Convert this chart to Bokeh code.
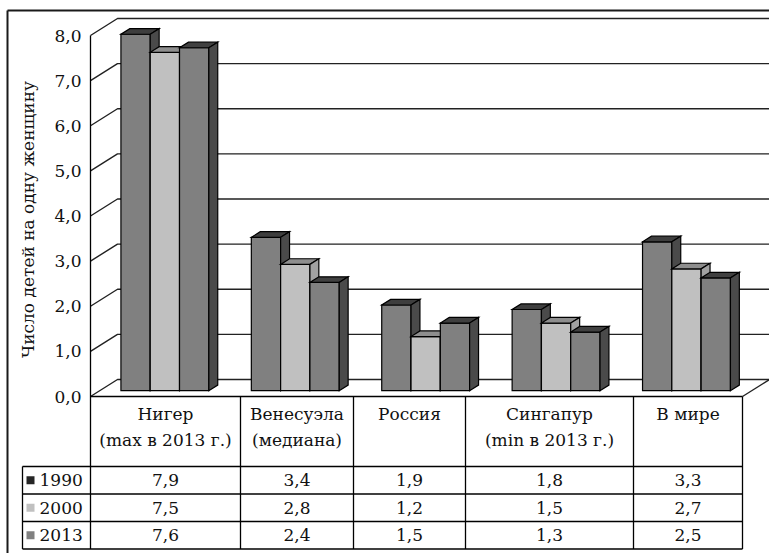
import math

from bokeh.plotting import figure
from bokeh.models import Range1d
from bokeh.embed import file_html
from bokeh.resources import INLINE
from bokeh.core.properties import value

# ---------------- data ----------------
categories = [
    "Нигер\n(max в 2013 г.)",
    "Венесуэла\n(медиана)",
    "Россия",
    "Сингапур\n(min в 2013 г.)",
    "В мире",
]
years = ["1990", "2000", "2013"]
fertility_1990 = [7.9, 3.4, 1.9, 1.8, 3.3]
fertility_2000 = [7.5, 2.8, 1.2, 1.5, 2.7]
fertility_2013 = [7.6, 2.4, 1.5, 1.3, 2.5]
series = [fertility_1990, fertility_2000, fertility_2013]

y_ticks = [0, 1, 2, 3, 4, 5, 6, 7, 8]
y_tick_labels = ["0,0", "1,0", "2,0", "3,0", "4,0", "5,0", "6,0", "7,0", "8,0"]
y_title = "Число детей на одну женщину"

# ---------------- styles ----------------
front_colors = ["#808080", "#c0c0c0", "#808080"]
top_colors = ["#3e3e3e", "#8e8e8e", "#404040"]
side_colors = ["#4a4a4a", "#a2a2a2", "#4a4a4a"]
key_colors = ["#262626", "#c0c0c0", "#808080"]
FONT = value("DejaVu Serif")
FS = "17px"
INK = "#111111"
EDGE = "#000000"

# ---------------- layout (pixels) ----------------
W, H = 769, 553
PLOT_L, PLOT_R = 90, 742        # front plane, left / right
ZERO_PX, TOP_PX = 396, 35       # value 0 and top tick on the front plane
WALL_DX, WALL_DY = 27, 17       # perspective depth of the walls
BAR_W_PX = 29.3
BAR_FRONT, BAR_BACK = 0.34, 0.67  # bar depth as a share of the floor depth
LABEL_BAND_PX = 466             # bottom of the category-label band
ROW_H_PX = 27.5
KEY_L_PX = 22
COL_PX = [90, 240, 353, 465, 633, 742]  # table column dividers
BORDER_X, BORDER_Y = 7, 10

n = len(categories)
px_per_cat = (PLOT_R - PLOT_L) / n
px_per_unit = (ZERO_PX - TOP_PX) / max(y_ticks)


def xd(px):
    return (px - PLOT_L) / px_per_cat


def yd(px):
    return (ZERO_PX - px) / px_per_unit


ddx = WALL_DX / px_per_cat
ddy = WALL_DY / px_per_unit

p = figure(
    width=W, height=H,
    x_range=Range1d(xd(0), xd(W)),
    y_range=Range1d(yd(H), yd(0)),
    output_backend="svg", toolbar_location=None,
    x_axis_location=None, y_axis_location=None,
    min_border=0, outline_line_color=None,
    background_fill_color="white", border_fill_color="white",
)
p.grid.visible = False

# ---- walls: gridlines wrapping the side wall and the back wall ----
grid_xs = [[0, ddx, n + ddx] for _ in y_ticks]
grid_ys = [[t, t + ddy, t + ddy] for t in y_ticks]
p.multi_line(grid_xs, grid_ys, line_color="#222222", line_width=1.4)
# right edge of the floor
p.segment(x0=[n], y0=[0], x1=[n + ddx], y1=[ddy], line_color="#222222", line_width=1.4)

# ---- 3D columns ----
bar_w = BAR_W_PX / px_per_cat
ox, oy = BAR_FRONT * ddx, BAR_FRONT * ddy
sx, sy = (BAR_BACK - BAR_FRONT) * ddx, (BAR_BACK - BAR_FRONT) * ddy

for j, vals in enumerate(series):
    lefts = [k + 0.5 + (j - 1.5) * bar_w + ox for k in range(n)]
    rights = [l + bar_w for l in lefts]
    tops = [v + oy for v in vals]
    p.quad(left=lefts, right=rights, bottom=oy, top=tops,
           fill_color=front_colors[j], line_color=EDGE, line_width=1.2,
           line_join="miter")
    p.patches(
        [[l, r, r + sx, l + sx] for l, r in zip(lefts, rights)],
        [[t, t, t + sy, t + sy] for t in tops],
        fill_color=top_colors[j], line_color=EDGE, line_width=1.2, line_join="miter")
    p.patches(
        [[r, r, r + sx, r + sx] for r in rights],
        [[oy, t, t + sy, oy + sy] for t in tops],
        fill_color=side_colors[j], line_color=EDGE, line_width=1.2, line_join="miter")

# ---- value axis ----
band_bottom = yd(LABEL_BAND_PX)
row_h = ROW_H_PX / px_per_unit
table_bottom = band_bottom - len(series) * row_h

p.segment(x0=[0], y0=[max(y_ticks)], x1=[0], y1=[table_bottom],
          line_color=EDGE, line_width=1.3)
p.text(x=[xd(81)] * len(y_ticks), y=y_ticks, text=y_tick_labels,
       text_font=FONT, text_font_size=FS, text_color=INK,
       text_align="right", text_baseline="middle")
p.text(x=[xd(27)], y=[yd(219)], text=[y_title], angle=math.pi / 2,
       text_font=FONT, text_font_size="17px", text_color=INK,
       text_align="center", text_baseline="middle")

# ---- data table ----
# horizontal rules
h_y = [0] + [band_bottom - i * row_h for i in range(len(series) + 1)]
h_x0 = [0] + [xd(KEY_L_PX)] * (len(series) + 1)
p.segment(x0=h_x0, y0=h_y, x1=[n] * len(h_y), y1=h_y, line_color=EDGE, line_width=1.3)
# vertical rules
col_x = [xd(c) for c in COL_PX]
p.segment(x0=col_x[1:], y0=[0] * (len(col_x) - 1), x1=col_x[1:],
          y1=[table_bottom] * (len(col_x) - 1), line_color=EDGE, line_width=1.3)
p.segment(x0=[xd(KEY_L_PX)], y0=[band_bottom], x1=[xd(KEY_L_PX)], y1=[table_bottom],
          line_color=EDGE, line_width=1.3)

# category labels
centers = [(col_x[k] + col_x[k + 1]) / 2 for k in range(n)]
lines = [c.split("\n") for c in categories]
line1 = [ln[0] for ln in lines]
line2 = [ln[1] if len(ln) > 1 else "" for ln in lines]
p.text(x=centers, y=[yd(413)] * n, text=line1, text_font=FONT, text_font_size=FS,
       text_color=INK, text_align="center", text_baseline="middle")
p.text(x=centers, y=[yd(439)] * n, text=line2, text_font=FONT, text_font_size=FS,
       text_color=INK, text_align="center", text_baseline="middle")

# rows: legend key, year, values
for i, (yr, vals) in enumerate(zip(years, series)):
    yc = band_bottom - (i + 0.5) * row_h
    p.scatter(x=[xd(30)], y=[yc], marker="square", size=8,
              fill_color=key_colors[i], line_color=None)
    p.text(x=[xd(39)], y=[yc], text=[yr], text_font=FONT, text_font_size=FS,
           text_color=INK, text_align="left", text_baseline="middle")
    p.text(x=centers, y=[yc] * n, text=[f"{v:.1f}".replace(".", ",") for v in vals],
           text_font=FONT, text_font_size=FS, text_color=INK,
           text_align="center", text_baseline="middle")

# ---- outer frame (top and left edges) ----
p.segment(x0=[xd(BORDER_X), xd(BORDER_X)], y0=[yd(BORDER_Y), yd(BORDER_Y)],
          x1=[xd(W + 5), xd(BORDER_X)], y1=[yd(BORDER_Y), yd(H + 5)],
          line_color="#1a1a1a", line_width=2)

open("out.html", "w").write(file_html(p, INLINE))
